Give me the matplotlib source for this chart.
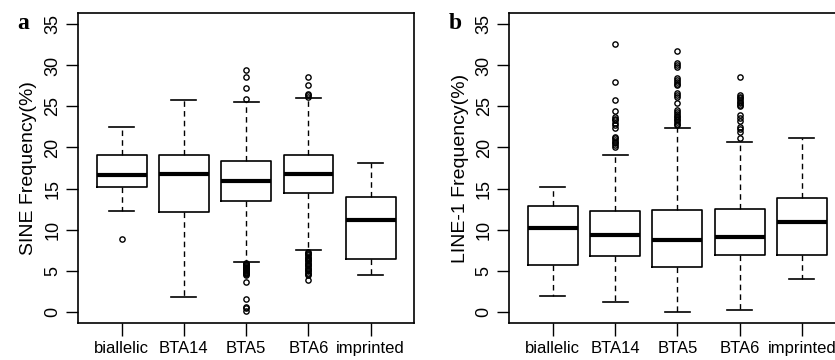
import matplotlib
matplotlib.use("Agg")
import matplotlib.pyplot as plt

plt.rcParams['font.family'] = ['Liberation Sans', 'DejaVu Sans']

groups = ['biallelic', 'BTA14', 'BTA5', 'BTA6', 'imprinted']

# panel a: SINE frequency
sine_whislo = [12.2, 1.8, 6.05, 7.45, 4.4]
sine_q1 = [15.15, 12.15, 13.45, 14.45, 6.4]
sine_med = [16.7, 16.75, 15.95, 16.75, 11.2]
sine_q3 = [19.05, 19.05, 18.35, 19.05, 13.95]
sine_whishi = [22.5, 25.85, 25.5, 26.05, 18.1]
sine_fliers = [
    [8.9],
    [],
    [25.95, 27.2, 28.55, 29.45,
     5.95, 5.85, 5.75, 5.65, 5.55, 5.45, 5.35, 5.25, 5.15, 5.05, 4.95,
     4.85, 4.75, 4.65, 4.55, 4.45, 3.65, 1.5, 0.6, 0.4, 0.1],
    [26.2, 26.35, 26.5, 27.6, 28.55,
     7.3, 7.15, 7.0, 6.85, 6.7, 6.55, 6.4, 6.25, 6.1, 5.95, 5.8, 5.65,
     5.5, 5.35, 5.2, 5.05, 4.9, 4.75, 4.6, 4.5, 3.8],
    [],
]

# panel b: LINE-1 frequency
line_whislo = [1.9, 1.1, 0.0, 0.2, 4.0]
line_q1 = [5.65, 6.8, 5.45, 6.9, 6.9]
line_med = [10.15, 9.35, 8.75, 9.05, 10.95]
line_q3 = [12.85, 12.2, 12.4, 12.45, 13.8]
line_whishi = [15.2, 19.1, 22.4, 20.7, 21.1]
line_fliers = [
    [],
    [20.1, 20.3, 20.5, 20.7, 20.9, 21.1, 21.3, 22.4, 22.7, 23.0, 23.3,
     23.5, 23.75, 24.5, 25.85, 27.95, 32.6],
    [22.7, 22.9, 23.1, 23.3, 23.5, 23.7, 23.9, 24.1, 24.3, 24.55, 25.4,
     26.2, 26.4, 26.6, 27.6, 27.8, 28.0, 28.2, 28.5, 29.8, 30.0, 30.25,
     31.8],
    [21.1, 21.9, 22.2, 22.5, 23.25, 23.6, 24.0, 25.0, 25.2, 25.4, 25.6,
     25.8, 26.0, 26.2, 26.45, 28.55],
    [],
]


def make_stats(lo, q1, med, q3, hi, fl):
    stats = []
    for i in range(len(groups)):
        stats.append(dict(whislo=lo[i], q1=q1[i], med=med[i], q3=q3[i],
                          whishi=hi[i], fliers=fl[i], label=groups[i]))
    return stats


fig = plt.figure(figsize=(8.35, 3.6), dpi=100)
ax1 = fig.add_axes([78 / 835, 37 / 360, (414.3 - 78) / 835, 310 / 360])
ax2 = fig.add_axes([509.3 / 835, 37 / 360, (845.5 - 509.3) / 835, 310 / 360])

panels = [
    (ax1, make_stats(sine_whislo, sine_q1, sine_med, sine_q3, sine_whishi, sine_fliers),
     'SINE Frequency(%)', 'a'),
    (ax2, make_stats(line_whislo, line_q1, line_med, line_q3, line_whishi, line_fliers),
     'LINE-1 Frequency(%)', 'b'),
]

for ax, stats, ylab, letter in panels:
    ax.bxp(stats, positions=range(1, 6), widths=0.8, capwidths=0.4,
           boxprops=dict(color='black', linewidth=1.2),
           medianprops=dict(color='black', linewidth=3.0),
           whiskerprops=dict(color='black', linewidth=1.0, linestyle=(0, (4, 3))),
           capprops=dict(color='black', linewidth=1.2),
           flierprops=dict(marker='o', markersize=3.8, markerfacecolor='none',
                           markeredgecolor='black', markeredgewidth=1.0))
    ax.set_xlim(0.3, 5.7)
    ax.set_ylim(-1.4, 36.4)
    ax.set_yticks([0, 5, 10, 15, 20, 25, 30, 35])
    ax.set_yticklabels(['0', '5', '10', '15', '20', '25', '30', '35'],
                       rotation=90, va='center', fontsize=13)
    ax.set_xticks(range(1, 6))
    ax.set_xticklabels(groups, fontsize=12)
    ax.tick_params(axis='y', length=9, width=1, pad=3)
    ax.tick_params(axis='x', length=9, width=1, pad=4)
    for s in ax.spines.values():
        s.set_linewidth(1.2)
    ax.set_ylabel(ylab, fontsize=14, labelpad=5)
    ax.text(-0.18, 1.0, letter, transform=ax.transAxes, fontsize=17,
            fontweight='bold', family='Liberation Serif', va='top', ha='left')

fig.savefig('out.png', dpi=100)
